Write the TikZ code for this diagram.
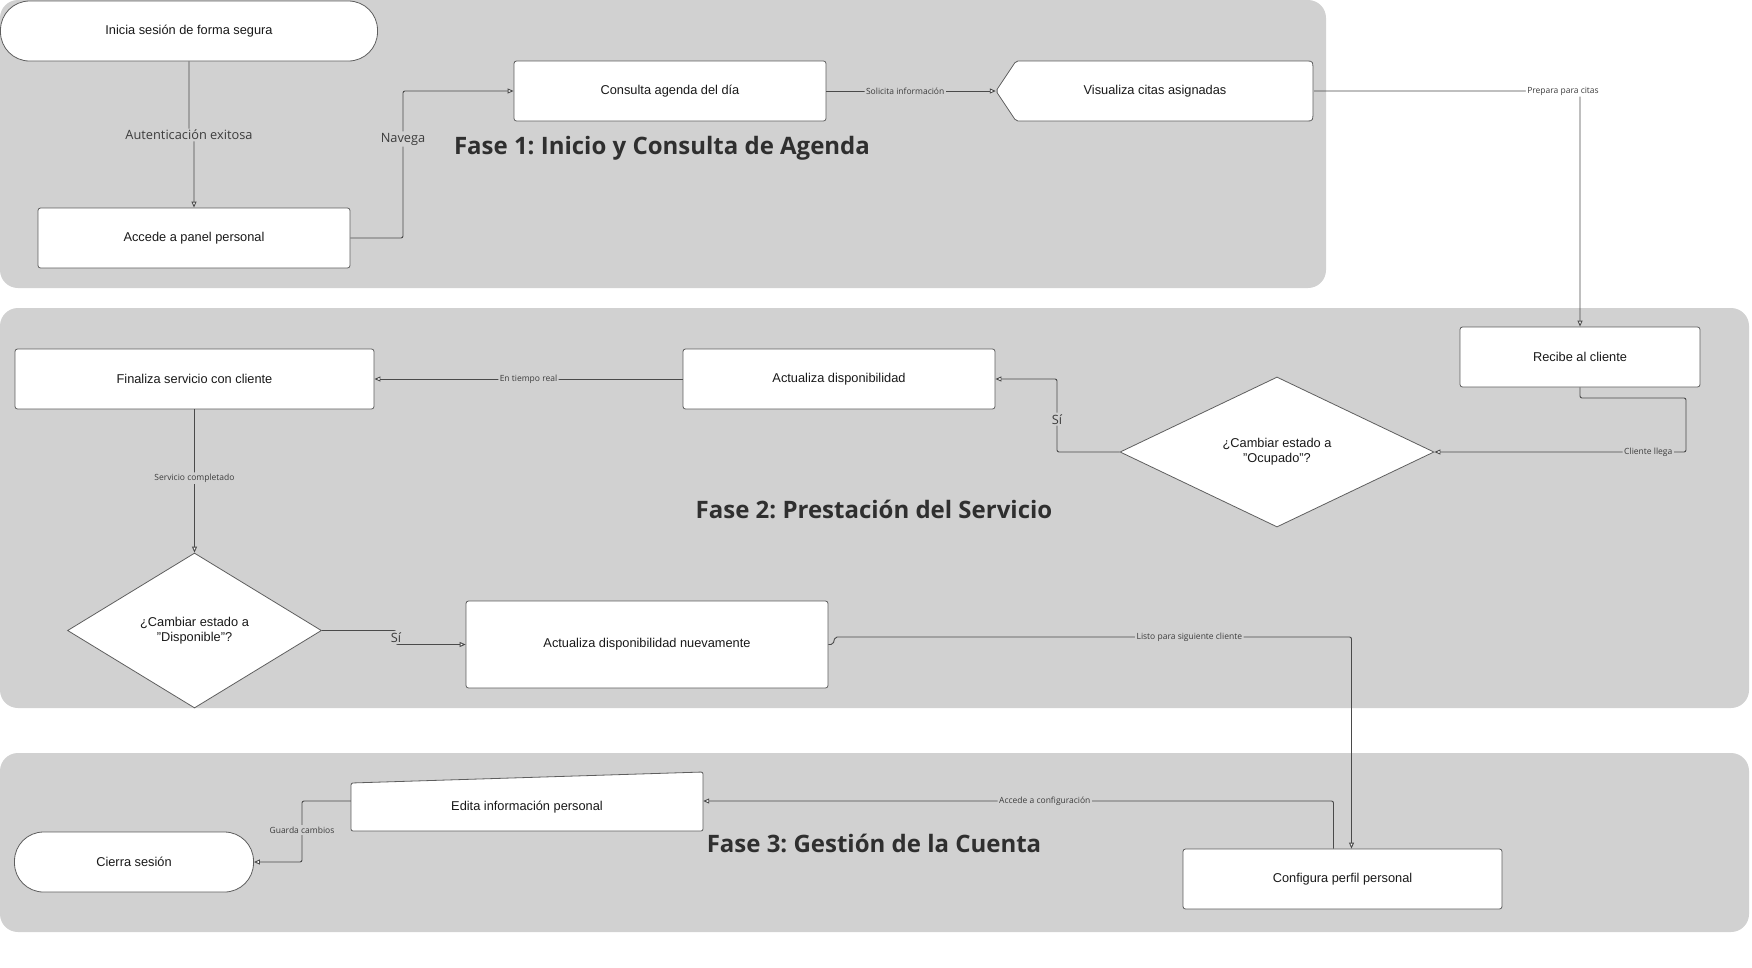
\documentclass[tikz,border=0pt]{standalone}
\usepackage{fontspec}
\setmainfont{Liberation Sans}
\newfontfamily\osans{Open Sans}
\usetikzlibrary{shapes.geometric,arrows.meta,calc}
\frenchspacing
\definecolor{panel}{HTML}{D1D1D1}
\definecolor{edgec}{HTML}{4A4A4A}
\definecolor{bordc}{HTML}{5E5E5E}
\definecolor{titlec}{HTML}{2F2F2F}
\definecolor{lblc}{HTML}{3C3C3C}
\tikzset{
  nodebox/.style={draw=bordc, fill=white, line width=0.8pt, rounded corners=2.5pt, inner sep=0pt,
    font=\fontsize{12.8}{15}\selectfont, align=center, text=black!90},
  termbox/.style={nodebox, rounded corners=29pt},
  decis/.style={diamond, draw=bordc, fill=white, line width=0.8pt, inner sep=0pt,
    font=\fontsize{12.8}{15}\selectfont, align=center, text=black!90},
  ghost/.style={inner sep=0pt, font=\fontsize{12.8}{15}\selectfont, align=center, text=black!90},
  shapeline/.style={fill=white, draw=bordc, line width=0.8pt},
  conn/.style={draw=edgec, line width=0.9pt, rounded corners=2pt,
    -{Triangle[length=6pt,width=5pt,fill=white]}},
  biglbl/.style={fill=panel, inner sep=1.5pt, font=\osans\fontsize{12.8}{14}\selectfont, text=lblc},
  smlbl/.style={fill=panel, inner sep=1.5pt, font=\osans\fontsize{8.5}{10}\selectfont, text=lblc},
  phasebg/.style={fill=panel, rounded corners=18pt},
  phasettl/.style={font=\osans\bfseries\fontsize{24}{28}\selectfont, text=titlec},
}
\begin{document}
\begin{tikzpicture}[x=1pt,y=-1pt]
\useasboundingbox (0,0) rectangle (1752,967);
\fill[white] (0,0) rectangle (1752,967);

% phase panels
\fill[phasebg] (0,0) rectangle (1326,288);
\fill[phasebg] (0,308) rectangle (1749,708);
\fill[phasebg] (0,753) rectangle (1749,932);

% titles
\node[phasettl] (t1) at (662,148) {Fase 1: Inicio y Consulta de Agenda};
\node[phasettl] (t2) at (874,509) {Fase 2: Prestación del Servicio};
\node[phasettl] (t3) at (874,843) {Fase 3: Gestión de la Cuenta};

% special outlines
\path[shapeline, rounded corners=2pt] (996,91) -- (1016,61) -- (1305,61)
  .. controls (1313,61) .. (1313,75) -- (1313,107) .. controls (1313,121) .. (1305,121)
  -- (1016,121) -- cycle;
\path[shapeline, rounded corners=2pt] (351,783) -- (703,772) -- (703,831) -- (351,831) -- cycle;

% nodes
\node[termbox, minimum width=377pt, minimum height=60pt] (start) at (189,31) {Inicia sesión de forma segura};
\node[nodebox, minimum width=312pt, minimum height=60pt] (acc) at (194,238) {Accede a panel personal};
\node[nodebox, minimum width=312pt, minimum height=60pt] (con) at (670,91) {Consulta agenda del día};
\node[ghost, minimum width=318pt, minimum height=60pt] (vis) at (1155,91) {Visualiza citas asignadas};
\node[nodebox, minimum width=240pt, minimum height=60pt] (rec) at (1580,357) {Recibe al cliente};
\node[decis, minimum width=314pt, minimum height=150pt] (ocu) at (1277,452) {¿Cambiar estado a\\"Ocupado"?};
\node[nodebox, minimum width=312pt, minimum height=60pt] (act) at (839,379) {Actualiza disponibilidad};
\node[nodebox, minimum width=359pt, minimum height=60pt] (fin) at (194.5,379) {Finaliza servicio con cliente};
\node[decis, minimum width=254pt, minimum height=155pt] (dis) at (194.5,630.5) {¿Cambiar estado a\\"Disponible"?};
\node[nodebox, minimum width=362pt, minimum height=87pt] (ad2) at (647,644.5) {Actualiza disponibilidad nuevamente};
\node[nodebox, minimum width=319pt, minimum height=60pt] (cfg) at (1342.5,879) {Configura perfil personal};
\node[ghost, minimum width=352pt, minimum height=59pt, text height=22pt, text depth=3pt] (edi) at (527,801) {Edita información personal};
\node[termbox, minimum width=239pt, minimum height=60pt] (cie) at (134,862) {Cierra sesión};

% connectors
\draw[conn] (start.south) -- (189,135) node[biglbl] {Autenticación exitosa} -| (acc.north);
\draw[conn] (acc.east) -- (403,238) -- (403,139) node[biglbl] {Navega} |- (con.west);
\draw[conn] (con.east) -- node[smlbl, pos=0.465] {Solicita información} (vis.west);
\draw[conn] (vis.east) -| node[smlbl, fill=white, pos=0.468] {Prepara para citas} (rec.north);
\draw[conn] (rec.south) -- (1580,398) -- (1686,398) -- (1686,452)
  -- node[smlbl, pos=0.15] {Cliente llega} (ocu.east);
\draw[conn] (ocu.west) -- (1057,452) -- node[biglbl, pos=0.45] {Sí} (1057,379) -- (act.east);
\draw[conn] (act.west) -- node[smlbl, pos=0.5] {En tiempo real} (fin.east);
\draw[conn] (fin.south) -- node[smlbl, pos=0.48] {Servicio completado} (dis.north);
\draw[conn] (dis.east) -- (396,630.5) -- node[biglbl] {Sí} (396,644.5) -- (ad2.west);
\draw[conn] (ad2.east) -- (833,644.5) -- (835,637)
  -| node[smlbl, pos=0.343] {Listo para siguiente cliente} ($(cfg.north)+(9,0)$);
\draw[conn] ($(cfg.north)+(-9,0)$) |- node[smlbl, pos=0.729] {Accede a configuración} (edi.east);
\draw[conn] (edi.west) -- (302,801) -- node[smlbl, pos=0.475] {Guarda cambios} (302,862) -- (cie.east);
\end{tikzpicture}
\end{document}
